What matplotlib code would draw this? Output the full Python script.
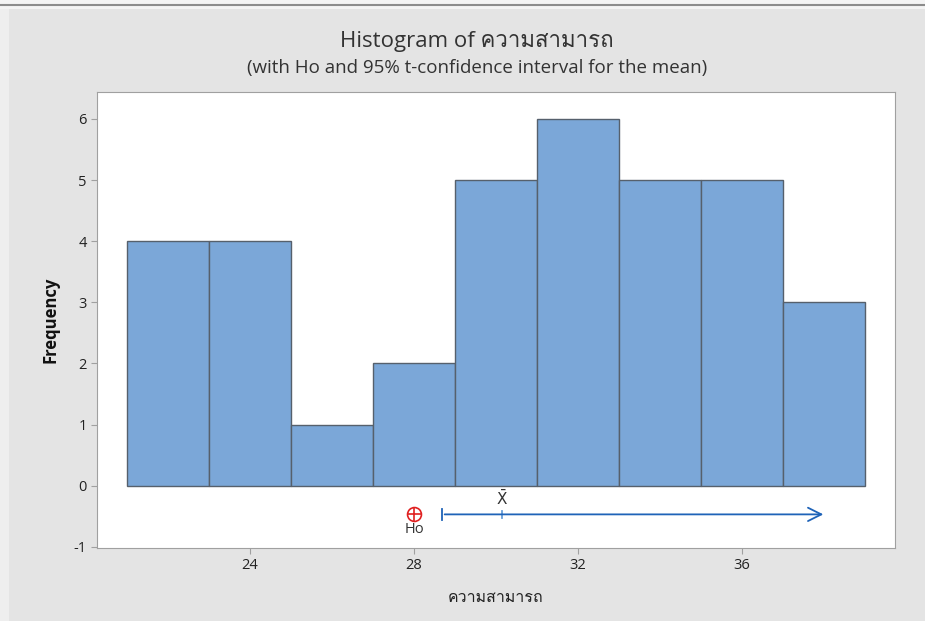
import matplotlib
matplotlib.use("Agg")
import matplotlib.pyplot as plt
from matplotlib import font_manager
from matplotlib.ft2font import FT2Font
from matplotlib.patches import Rectangle

# find an installed family that has Thai glyphs
thai_family = None
for f in font_manager.fontManager.ttflist:
    try:
        if ord('ค') in FT2Font(f.fname).get_charmap():
            thai_family = f.name
            break
    except Exception:
        pass

families = ['Open Sans', 'DejaVu Sans']
if thai_family:
    families.append(thai_family)
plt.rcParams['font.family'] = families
plt.rcParams['axes.unicode_minus'] = False

# histogram data (bin edges + counts)
bin_edges = [21, 23, 25, 27, 29, 31, 33, 35, 37, 39]
counts = [4, 4, 1, 2, 5, 6, 5, 5, 3]

# hypothesis test / interval
ho = 28.0
xbar = 30.15
ci_lower = 28.68
ci_arrow_end = 38.05
ci_y = -0.47

xticks = [24, 28, 32, 36]
yticks = [-1, 0, 1, 2, 3, 4, 5, 6]

fig = plt.figure(figsize=(9.25, 6.21), dpi=100)
fig.patch.set_facecolor('#e4e4e4')
# screenshot border strips
fig.add_artist(Rectangle((0, 0), 9 / 925, 1, transform=fig.transFigure,
                         facecolor='#eeeeee', edgecolor='none', zorder=-5))
fig.add_artist(Rectangle((0, 1 - 9 / 621), 1, 9 / 621, transform=fig.transFigure,
                         facecolor='#f4f4f4', edgecolor='none', zorder=-5))
fig.add_artist(plt.Line2D([0, 1], [1 - 5 / 621, 1 - 5 / 621], transform=fig.transFigure,
                          color='#8c8c8c', lw=1.5, zorder=-4))

ax = fig.add_axes([97 / 925, 1 - 548 / 621, 798 / 925, 456 / 621])
ax.set_facecolor('white')

widths = [bin_edges[i + 1] - bin_edges[i] for i in range(len(counts))]
ax.bar(bin_edges[:-1], counts, width=widths, align='edge', color='#7ba7d8',
       edgecolor='#56606c', linewidth=1.0, zorder=2)

# CI arrow
ax.annotate('', xy=(ci_arrow_end, ci_y), xytext=(ci_lower, ci_y),
            arrowprops=dict(arrowstyle='->', color='#1f63b8', lw=1.3,
                            mutation_scale=24), zorder=3)
ax.plot([ci_lower, ci_lower], [ci_y - 0.09, ci_y + 0.09], color='#1f63b8', lw=1.3)
ax.plot([xbar, xbar], [ci_y - 0.06, ci_y + 0.06], color='#6a9fd8', lw=1.3)
ax.text(xbar, ci_y + 0.09, r'$\bar{\mathrm{X}}$', ha='center', va='bottom',
        fontsize=11, color='#333333')

# Ho marker
ax.plot([ho], [ci_y], marker='o', ms=10, mfc='none', mec='#e02020', mew=1.2)
ax.plot([ho], [ci_y], marker='+', ms=10, mec='#e02020', mew=1.2)
ax.text(ho, ci_y - 0.13, 'Ho', ha='center', va='top', fontsize=10.5, color='#333333')

ax.set_xlim(20.27, 39.73)
ax.set_ylim(-1.02, 6.44)
ax.set_xticks(xticks)
ax.set_yticks(yticks)
ax.tick_params(labelsize=10.5, colors='#222222', length=4, color='#a0a0a0')
for s in ax.spines.values():
    s.set_color('#a0a0a0')

ax.set_ylabel('Frequency', fontsize=12, fontweight='bold', color='#111111', labelpad=10)
ax.set_xlabel('ความสามารถ', fontsize=11.5, color='#222222', labelpad=12)

fig.text(477 / 925, 1 - 42 / 621, 'Histogram of ความสามารถ', ha='center', va='center',
         fontsize=16, color='#333333')
fig.text(477 / 925, 1 - 68 / 621, '(with Ho and 95% t-confidence interval for the mean)',
         ha='center', va='center', fontsize=13.5, color='#333333')

fig.savefig('out.png', dpi=100, facecolor=fig.get_facecolor())
